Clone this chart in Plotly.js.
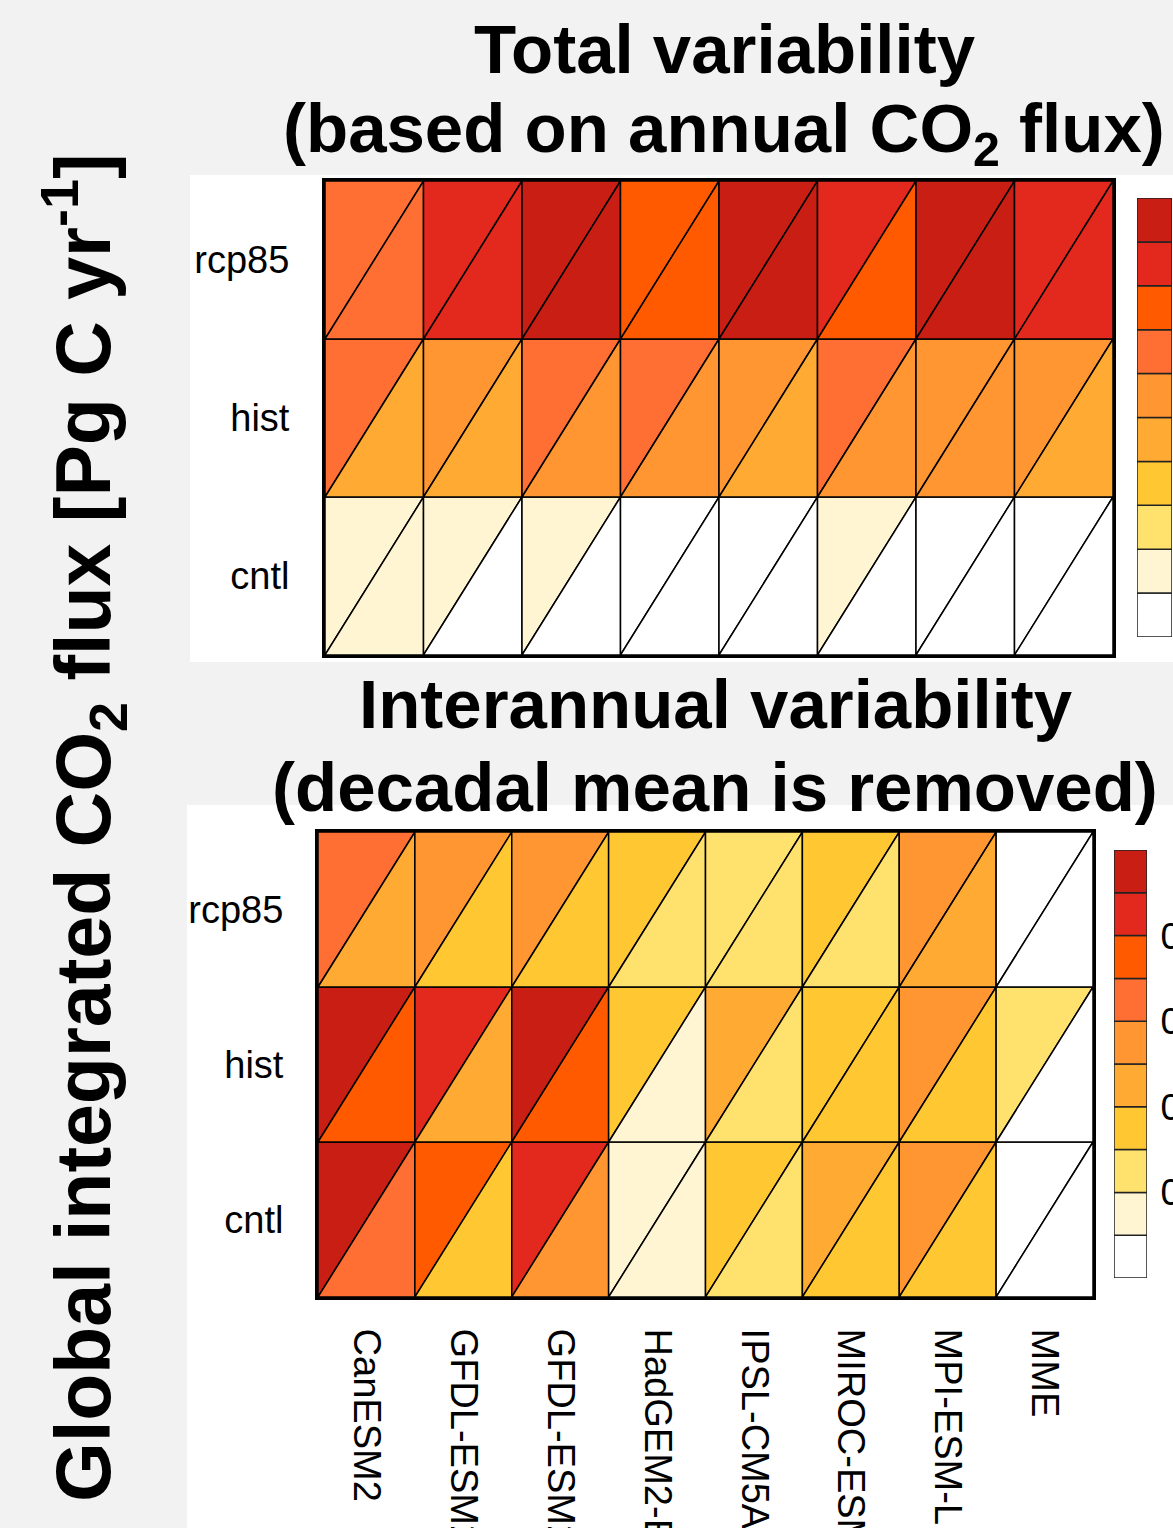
<!DOCTYPE html>
<html><head><meta charset="utf-8">
<script src="https://cdn.plot.ly/plotly-3.0.1.min.js"></script>
<style>html,body{margin:0;padding:0;background:#f2f2f2;overflow:hidden;} #chart{width:1173px;height:1528px;}</style>
</head><body><div id="chart"></div>
<script>
// ---- categories ----
const models = ['CanESM2','GFDL-ESM2G','GFDL-ESM2M','HadGEM2-ES','IPSL-CM5A-LR','MIROC-ESM','MPI-ESM-LR','MME'];
const runs = ['cntl','hist','rcp85']; // bottom -> top

// ---- discrete colour levels (low -> high) ----
const levelColors = ['#FFFFFF','#FFF5D2','#FFE16E','#FFC832','#FFAA32','#FF9632','#FF6E32','#FF5A00','#E3281E','#C81E14'];
const totalBreaks = [0,0.1,0.2,0.3,0.4,0.5,0.6,0.7,0.8,0.9,1.0];
const iavBreaks = [0,0.05,0.1,0.15,0.2,0.25,0.3,0.35,0.4,0.45,0.5];
const iavTicks = [0.1,0.2,0.3,0.4];

// ---- Total variability (upper-left / lower-right triangles) ----
const totalUpperRcp85 = [0.64,0.85,0.93,0.76,0.92,0.83,0.94,0.86];
const totalLowerRcp85 = [0.66,0.84,0.95,0.74,0.91,0.77,0.93,0.84];
const totalUpperHist  = [0.63,0.57,0.65,0.66,0.55,0.64,0.56,0.54];
const totalLowerHist  = [0.45,0.47,0.55,0.53,0.46,0.54,0.52,0.44];
const totalUpperCntl  = [0.14,0.13,0.12,0.07,0.08,0.11,0.06,0.05];
const totalLowerCntl  = [0.12,0.08,0.06,0.05,0.04,0.07,0.05,0.03];

// ---- Interannual variability ----
const iavUpperRcp85 = [0.33,0.28,0.27,0.18,0.12,0.17,0.29,0.03];
const iavLowerRcp85 = [0.23,0.17,0.18,0.13,0.11,0.12,0.22,0.02];
const iavUpperHist  = [0.47,0.42,0.46,0.17,0.21,0.18,0.27,0.13];
const iavLowerHist  = [0.38,0.22,0.37,0.07,0.12,0.16,0.19,0.04];
const iavUpperCntl  = [0.48,0.36,0.43,0.08,0.16,0.23,0.26,0.03];
const iavLowerCntl  = [0.31,0.18,0.26,0.09,0.13,0.17,0.16,0.02];

const W = 1173, H = 1528;
const px = v => v / W;
const py = v => 1 - v / H;
const FONT = 'Liberation Sans, Arial, Helvetica, sans-serif';

function colorFor(v, breaks) {
  for (let k = 0; k < levelColors.length; k++) {
    if (v < breaks[k + 1]) return levelColors[k];
  }
  return levelColors[levelColors.length - 1];
}

function triangleTraces(upperRows, lowerRows, breaks, xa, ya) {
  const out = [];
  upperRows.forEach((row, j) => {
    row.forEach((v, i) => {
      const x0 = i, x1 = i + 1, y0 = j, y1 = j + 1;
      out.push({type:'scatter', mode:'lines', x:[x0,x0,x1,x0], y:[y0,y1,y1,y0],
        fill:'toself', fillcolor:colorFor(v, breaks), line:{color:'#000', width:1.5},
        xaxis:xa, yaxis:ya, hoverinfo:'skip', showlegend:false});
      const w = lowerRows[j][i];
      out.push({type:'scatter', mode:'lines', x:[x0,x1,x1,x0], y:[y0,y0,y1,y0],
        fill:'toself', fillcolor:colorFor(w, breaks), line:{color:'#000', width:1.5},
        xaxis:xa, yaxis:ya, hoverinfo:'skip', showlegend:false});
    });
  });
  return out;
}

function colorbarTrace(breaks, xa, ya) {
  const heights = [], bases = [];
  for (let k = 0; k < breaks.length - 1; k++) { heights.push(breaks[k+1] - breaks[k]); bases.push(breaks[k]); }
  return {type:'bar', x:heights.map(() => 0), y:heights, base:bases, width:1,
    marker:{color:levelColors, line:{color:'#222', width:1.5}},
    xaxis:xa, yaxis:ya, hoverinfo:'skip', showlegend:false};
}

const traces = [].concat(
  triangleTraces([totalUpperCntl, totalUpperHist, totalUpperRcp85],
                 [totalLowerCntl, totalLowerHist, totalLowerRcp85], totalBreaks, 'x', 'y'),
  triangleTraces([iavUpperCntl, iavUpperHist, iavUpperRcp85],
                 [iavLowerCntl, iavLowerHist, iavLowerRcp85], iavBreaks, 'x2', 'y2'),
  [colorbarTrace(totalBreaks, 'x3', 'y3'), colorbarTrace(iavBreaks, 'x4', 'y4')]
);

const frame = {showgrid:false, zeroline:false, showline:true, mirror:true, linewidth:3, linecolor:'#000', fixedrange:true};
const tickFont = {family:FONT, size:38, color:'#000'};

const layout = {
  width:W, height:H, margin:{l:0, r:0, t:0, b:0},
  paper_bgcolor:'#f2f2f2', plot_bgcolor:'#ffffff', showlegend:false, bargap:0,
  xaxis: Object.assign({}, frame, {anchor:'y', domain:[px(325), px(1113)], range:[0,8], showticklabels:false, ticks:''}),
  yaxis: Object.assign({}, frame, {anchor:'x', domain:[py(655), py(181)], range:[0,3],
    tickvals:[0.5,1.5,2.5], ticktext:runs, ticks:'outside', ticklen:25, tickcolor:'rgba(0,0,0,0)', tickfont:tickFont}),
  xaxis2: Object.assign({}, frame, {anchor:'y2', domain:[px(318), px(1093)], range:[0,8],
    tickvals:[0.5,1.5,2.5,3.5,4.5,5.5,6.5,7.5], ticktext:models, tickangle:90,
    ticks:'outside', ticklen:21, tickcolor:'rgba(0,0,0,0)', tickfont:tickFont, automargin:false}),
  yaxis2: Object.assign({}, frame, {anchor:'x2', domain:[py(1297), py(832)], range:[0,3],
    tickvals:[0.5,1.5,2.5], ticktext:runs, ticks:'outside', ticklen:24, tickcolor:'rgba(0,0,0,0)', tickfont:tickFont}),
  xaxis3: {anchor:'y3', domain:[px(1137), px(1172)], range:[-0.5,0.5], visible:false, fixedrange:true},
  yaxis3: {anchor:'x3', domain:[py(637), py(198)], range:[0,1], showticklabels:false, showgrid:false, zeroline:false, ticks:'', fixedrange:true},
  xaxis4: {anchor:'y4', domain:[px(1114), px(1147)], range:[-0.5,0.5], visible:false, fixedrange:true},
  yaxis4: {anchor:'x4', domain:[py(1278), py(850)], range:[0,0.5], side:'right',
    tickvals:iavTicks, ticktext:iavTicks.map(String), ticks:'outside', ticklen:5, tickcolor:'rgba(0,0,0,0)',
    tickfont:{family:FONT, size:37, color:'#000'}, showgrid:false, zeroline:false, fixedrange:true, automargin:false},
  shapes: [
    {type:'rect', xref:'paper', yref:'paper', x0:px(190), x1:1, y0:py(662), y1:py(175), fillcolor:'#ffffff', line:{width:0}, layer:'below'},
    {type:'rect', xref:'paper', yref:'paper', x0:px(187), x1:1, y0:0, y1:py(805), fillcolor:'#ffffff', line:{width:0}, layer:'below'}
  ],
  annotations: [
    {xref:'paper', yref:'paper', x:px(724), y:py(49), xanchor:'center', yanchor:'middle', showarrow:false,
      text:'Total variability', font:{family:FONT, size:69, weight:700, color:'#000'}},
    {xref:'paper', yref:'paper', x:px(724), y:py(133), xanchor:'center', yanchor:'middle', showarrow:false,
      text:'(based on annual CO<sub>2</sub> flux)', font:{family:FONT, size:69, weight:700, color:'#000'}},
    {xref:'paper', yref:'paper', x:px(715), y:py(704), xanchor:'center', yanchor:'middle', showarrow:false,
      text:'Interannual variability', font:{family:FONT, size:69, weight:700, color:'#000'}},
    {xref:'paper', yref:'paper', x:px(715), y:py(788), xanchor:'center', yanchor:'middle', showarrow:false,
      text:'(decadal mean is removed)', font:{family:FONT, size:69, weight:700, color:'#000'}},
    {xref:'paper', yref:'paper', x:px(83), y:py(828), xanchor:'center', yanchor:'middle', showarrow:false, textangle:-90,
      text:'Global integrated CO<sub>2</sub> flux [Pg C yr<sup>-1</sup>]', font:{family:FONT, size:77, weight:700, color:'#000'}}
  ]
};

Plotly.newPlot('chart', traces, layout, {displayModeBar:false, staticPlot:true});
</script>
</body></html>
